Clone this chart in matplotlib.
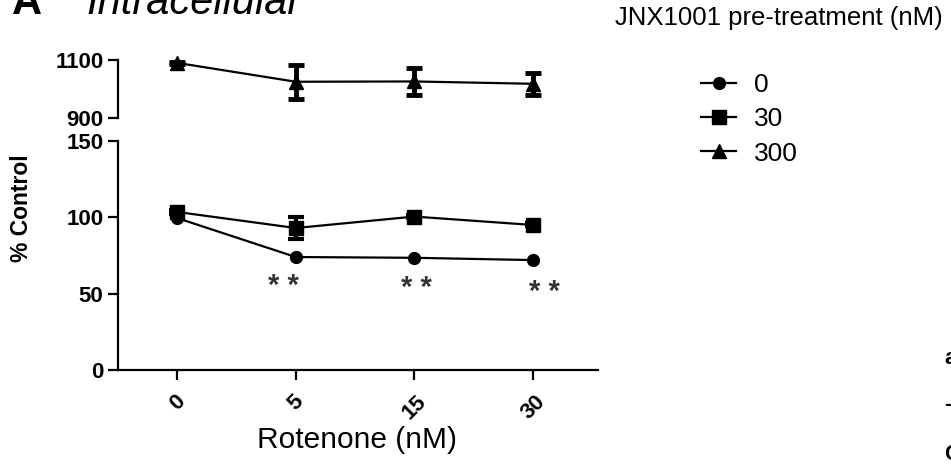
import matplotlib
matplotlib.use("Agg")
import matplotlib.pyplot as plt
from matplotlib.lines import Line2D

plt.rcParams['font.family'] = ['Liberation Sans', 'DejaVu Sans']

# ---- data ----
rotenone_labels = ["0", "5", "15", "30"]
x_pos = [0, 1, 2, 3]
jnx0_mean = [99.5, 74.0, 73.5, 72.0]
jnx30_mean = [103.5, 93.0, 100.5, 95.0]
jnx30_err = [1.5, 7.0, 1.0, 1.0]
jnx300_mean = [1090, 1025, 1026, 1018]
jnx300_err = [4, 58, 46, 37]
legend_labels = ["0", "30", "300"]
sig_text = ["* *", "* *", "* *"]
sig_x = [1, 2, 3]
sig_y = [55, 54, 51]
sig_dx = [-0.1, 0.02, 0.1]

W, H = 951, 467
fig = plt.figure(figsize=(W / 100, H / 100), dpi=100)

def fr(x0, y0, x1, y1):
    return [x0 / W, 1 - y1 / H, (x1 - x0) / W, (y1 - y0) / H]

ax = fig.add_axes(fr(118, 141, 598, 370))
axt = fig.add_axes(fr(118, 60, 598, 118))

lw = 1.6
xlim = (-0.5, 3.55)

# lower axis
ax.plot(x_pos, jnx0_mean, color='black', lw=lw, marker='o', ms=8.5, zorder=3)
ax.errorbar(x_pos, jnx30_mean, yerr=jnx30_err, color='black', lw=lw, marker='s',
            ms=10, capsize=6, capthick=3, elinewidth=3, zorder=3)
ax.set_xlim(*xlim)
ax.set_ylim(0, 150)
ax.set_yticks([0, 50, 100, 150])
ax.set_xticks(x_pos)
ax.set_xticklabels(rotenone_labels, rotation=45, ha='center', va='top')
for s in ['top', 'right']:
    ax.spines[s].set_visible(False)
for s in ['left', 'bottom']:
    ax.spines[s].set_linewidth(1.6)
ax.tick_params(axis='both', direction='out', width=1.6, length=7, labelsize=16)
for lab in ax.get_xticklabels() + ax.get_yticklabels():
    lab.set_fontweight('bold')
ax.tick_params(axis='x', pad=8)

for t, xx, yy, dx in zip(sig_text, sig_x, sig_y, sig_dx):
    ax.text(xx + dx, yy, t, ha='center', va='center', fontsize=21, color='#333333',
            fontweight='bold')

# upper axis
axt.errorbar(x_pos, jnx300_mean, yerr=jnx300_err, color='black', lw=lw, marker='^',
             ms=10, capsize=6, capthick=3.5, elinewidth=3.5, zorder=3, clip_on=False)
axt.set_xlim(*xlim)
axt.set_ylim(900, 1100)
axt.set_yticks([900, 1100])
axt.set_xticks([])
for s in ['top', 'right', 'bottom']:
    axt.spines[s].set_visible(False)
axt.spines['left'].set_linewidth(1.6)
axt.tick_params(axis='y', direction='out', width=1.6, length=7, labelsize=16)
for lab in axt.get_yticklabels():
    lab.set_fontweight('bold')

# labels
fig.text(22 / W, 1 - 208 / H, "% Control", rotation=90, ha='center', va='center',
         fontsize=16.5, fontweight='bold')
fig.text(357 / W, 1 - 440 / H, "Rotenone (nM)", ha='center', va='center', fontsize=21.5)

# title (cropped at top)
fig.text(12 / W, 1 - 14 / H, "A", ha='left', va='baseline', fontsize=30, fontweight='bold')
fig.text(86 / W, 1 - 14 / H, "Intracellular", ha='left', va='baseline', fontsize=30,
         style='italic')

# legend
fig.text(615 / W, 1 - 18 / H, "JNX1001 pre-treatment (nM)", ha='left', va='center',
         fontsize=18.5)
handles = [
    Line2D([], [], color='black', lw=lw, marker='o', ms=8.5),
    Line2D([], [], color='black', lw=lw, marker='s', ms=10),
    Line2D([], [], color='black', lw=lw, marker='^', ms=10),
]
fig.legend(handles, legend_labels, loc='upper left', bbox_to_anchor=(683 / W, 1 - 55 / H),
           frameon=False, fontsize=19, handlelength=1.3, handletextpad=0.68,
           labelspacing=0.38, borderpad=0.2)

# slivers of neighbouring panel at right edge
for ch, yy in zip(["a", "-", "C"], [358, 405, 455]):
    fig.text(944 / W, 1 - yy / H, ch, ha='left', va='center', fontsize=16, fontweight='bold')

fig.savefig("out.png", dpi=100)
